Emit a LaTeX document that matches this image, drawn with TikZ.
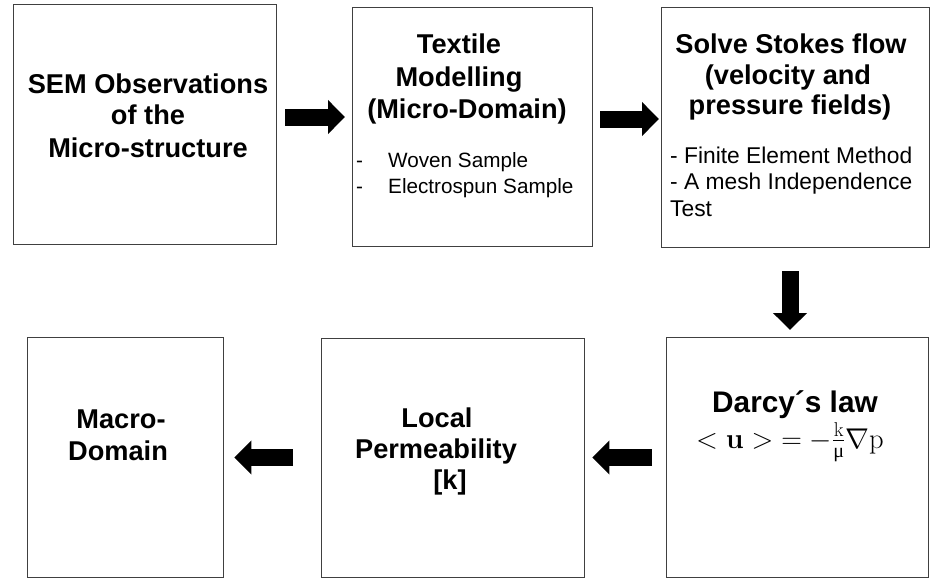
\RequirePackage{fix-cm}
\documentclass[tikz,border=0pt]{standalone}
\usepackage{amsmath}
\usepackage[no-math]{fontspec}
\setmainfont{Liberation Sans}
\newfontfamily\lserif{Liberation Serif}
\usetikzlibrary{arrows.meta}
\definecolor{boxgray}{HTML}{404040}
\begin{document}
\begin{tikzpicture}[x=1pt,y=-1pt,
  box/.style={draw=boxgray, line width=1.3pt, rectangle, anchor=north west, inner sep=0pt},
  title/.style={font=\bfseries\fontsize{27.2}{32}\selectfont, anchor=base, inner sep=0pt},
  item/.style={font=\fontsize{20.7}{25}\selectfont, anchor=base west, inner sep=0pt},
  itemb/.style={font=\fontsize{22.8}{27}\selectfont, anchor=base west, inner sep=0pt},
  flow/.style={line width=17pt, -{Triangle[length=17pt,width=33pt]}, black}]
\fill[white] (0,0) rectangle (930,579);
\useasboundingbox (0,0) rectangle (930,579);

% process boxes
\node[box, minimum width=263pt, minimum height=240pt] (b1) at (13,4) {};
\node[box, minimum width=240pt, minimum height=239pt] (b2) at (352,7) {};
\node[box, minimum width=268pt, minimum height=240pt] (b3) at (661,7) {};
\node[box, minimum width=262pt, minimum height=240pt] (b4) at (666,337) {};
\node[box, minimum width=263pt, minimum height=239pt] (b5) at (321,338) {};
\node[box, minimum width=196pt, minimum height=240pt] (b6) at (27,337) {};

% box 1
\node[title] (t1a) at (148,93) {SEM Observations};
\node[title] (t1b) at (148,124) {of the};
\node[title] (t1c) at (148,157) {Micro-structure};

% box 2
\node[title] (t2a) at (459,53) {Textile};
\node[title] (t2b) at (459,86) {Modelling};
\node[title] (t2c) at (467,118) {(Micro-Domain)};
\node[item] (d2a) at (356,167) {-};
\node[item] (i2a) at (388,167) {Woven Sample};
\node[item] (d2b) at (356,193) {-};
\node[item] (i2b) at (388,193) {Electrospun Sample};

% box 3
\node[title] (t3a) at (791,53) {Solve Stokes flow};
\node[title] (t3b) at (788,84) {(velocity and};
\node[title] (t3c) at (790,114) {pressure fields)};
\node[itemb] (i3a) at (670,163) {- Finite Element Method};
\node[itemb] (i3b) at (670,189.5) {- A mesh Independence};
\node[itemb] (i3c) at (670,216) {Test};

% box 4
\node[title, font=\bfseries\fontsize{29.8}{34}\selectfont] (t4a) at (795,412) {Darcy´s law};
\node[anchor=base, inner sep=0pt, font=\fontsize{28.6}{32}\selectfont] (f4) at (790,448)
  {$<\mathbf{u}>\;=-\frac{\mathrm{k}}{\text{\lserif μ}}\nabla\mathrm{p}$};

% box 5
\node[title] (t5a) at (437,427) {Local};
\node[title] (t5b) at (436,458) {Permeability};
\node[title] (t5c) at (450,489) {[k]};

% box 6
\node[title] (t6a) at (121,428) {Macro-};
\node[title] (t6b) at (118,460) {Domain};

% block arrows
\coordinate (r1) at (0,117);
\coordinate (r2) at (0,119);
\coordinate (r3) at (790,0);
\coordinate (r4) at (0,457.5);
\draw[flow] ([xshift=8pt]b1.east |- r1) -- ([xshift=-7pt]b2.west |- r1);
\draw[flow] ([xshift=7pt]b2.east |- r2) -- ([xshift=-2pt]b3.west |- r2);
\draw[flow] ([yshift=-23pt]b3.south -| r3) -- ([yshift=7pt]b4.north -| r3);
\draw[flow] ([xshift=-14pt]b4.west |- r4) -- ([xshift=7pt]b5.east |- r4);
\draw[flow] ([xshift=-28pt]b5.west |- r4) -- ([xshift=10pt]b6.east |- r4);
\end{tikzpicture}
\end{document}
